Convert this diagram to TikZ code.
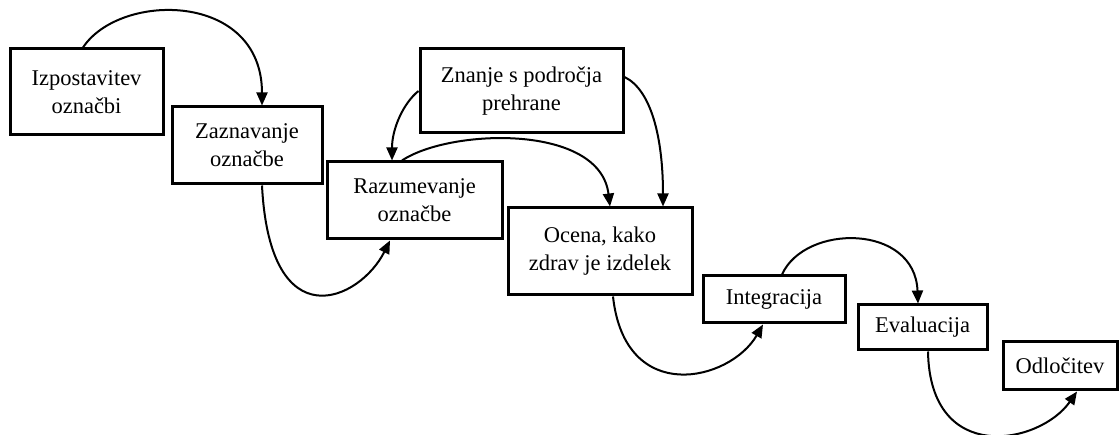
\documentclass[tikz,border=0pt]{standalone}
\usepackage{fontspec}
\setmainfont{Liberation Serif}
\usetikzlibrary{arrows.meta}
\begin{document}
\begin{tikzpicture}[x=1pt,y=-1pt,
  box/.style={draw=black,line width=3pt,fill=white,rectangle,inner sep=0pt,
    align=center,font=\fontsize{22.5}{28}\selectfont},
  arr/.style={line width=2pt,-{Triangle[length=13pt,width=11pt]}}]
\useasboundingbox (0,0) rectangle (1120,435);
\node[box,minimum width=153pt,minimum height=86pt] (b1) at (86.5,92) {Izpostavitev\\označbi};
\node[box,minimum width=150pt,minimum height=77pt] (b2) at (247,145.5) {Zaznavanje\\označbe};
\node[box,minimum width=203pt,minimum height=84pt] (b3) at (521.5,91) {Znanje s področja\\prehrane};
\node[box,minimum width=175pt,minimum height=77pt] (b4) at (414.5,200.5) {Razumevanje\\označbe};
\node[box,minimum width=184pt,minimum height=87pt] (b5) at (600,251.5) {Ocena, kako\\zdrav je izdelek};
\node[box,minimum width=142pt,minimum height=47pt] (b6) at (774,299.5) {Integracija};
\node[box,minimum width=129pt,minimum height=45pt] (b7) at (922.5,327.5) {Evaluacija};
\node[box,minimum width=114pt,minimum height=48pt] (b8) at (1060,366) {Odločitev};

\draw[arr] ([xshift=-3.5pt]b1.north) .. controls +(37,-56) and +(0,-114) .. ([xshift=15pt]b2.north);
\draw[arr] ([xshift=15pt]b2.south) .. controls +(8,156) and +(-30,60) .. ([xshift=-24.5pt]b4.south);
\draw[arr] (b3.west) .. controls +(-15,12) and +(0,-32) .. ([xshift=-22.5pt]b4.north);
\draw[arr] ([xshift=-12.5pt]b4.north) .. controls +(48,-32) and +(-10,-83) .. ([xshift=10pt]b5.north);
\draw[arr] ([yshift=14pt]b3.east) .. controls +(27,13) and +(0,-68) .. ([xshift=63pt]b5.north);
\draw[arr] ([xshift=13pt]b5.south) .. controls +(12,110) and +(-33,57) .. ([xshift=-11pt]b6.south);
\draw[arr] ([xshift=8pt]b6.north) .. controls +(23,-51) and +(-3,-80) .. ([xshift=-4.5pt]b7.north);
\draw[arr] ([xshift=5.5pt]b7.south) .. controls +(2,115) and +(-37,53) .. ([xshift=17pt]b8.south);
\end{tikzpicture}
\end{document}
